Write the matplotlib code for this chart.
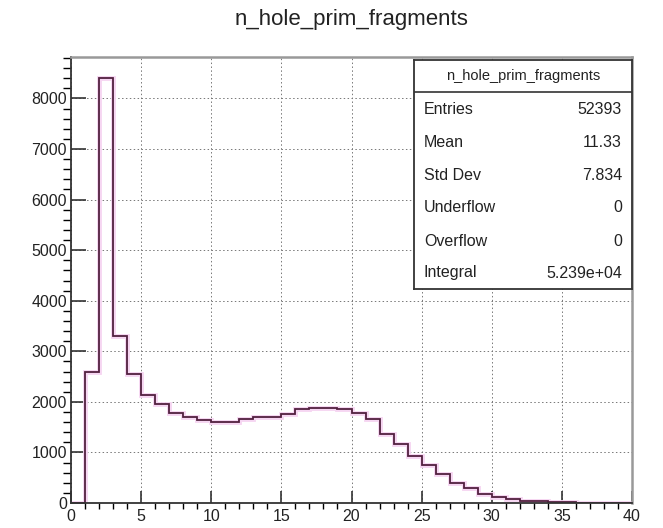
import numpy as np
import matplotlib.pyplot as plt
from matplotlib.ticker import MultipleLocator
from matplotlib.lines import Line2D

plt.rcParams['font.family'] = ['Liberation Sans', 'DejaVu Sans']

# histogram content (unit bins from 0 to 40)
bin_edges = list(range(0, 41))
counts = [0, 2600, 8400, 3300, 2550, 2140, 1950, 1780, 1710, 1650,
          1600, 1600, 1660, 1710, 1710, 1760, 1860, 1870, 1870, 1850,
          1780, 1660, 1370, 1160, 930, 750, 570, 390, 300, 170,
          120, 80, 45, 30, 20, 12, 8, 5, 3, 1]

title = "n_hole_prim_fragments"
stat_names = ["Entries", "Mean", "Std Dev", "Underflow", "Overflow", "Integral"]
stat_values = ["52393", "11.33", "7.834", "0", "0", "5.239e+04"]

W, H = 663, 528
fig = plt.figure(figsize=(W / 100, H / 100), dpi=100)

# main frame in pixel coordinates of the picture
left, right, top, bottom = 71, 632, 57, 503
ax = fig.add_axes([left / W, 1 - bottom / H, (right - left) / W, (bottom - top) / H])

ax.stairs(counts, bin_edges, color='#f6d6f2', linewidth=3.5)
ax.stairs(counts, bin_edges, color='#52203f', linewidth=1.3)

ax.set_xlim(0, 40)
ax.set_ylim(0, max(counts) * 1.05)

ax.xaxis.set_major_locator(MultipleLocator(5))
ax.xaxis.set_minor_locator(MultipleLocator(1))
ax.yaxis.set_major_locator(MultipleLocator(1000))
ax.yaxis.set_minor_locator(MultipleLocator(200))

ax.tick_params(axis='both', direction='in', labelsize=11.5, colors='#333333', labelcolor='#222222')
ax.tick_params(axis='x', which='major', length=9, width=1.2, pad=4)
ax.tick_params(axis='x', which='minor', length=4.5, width=1.0)
ax.tick_params(axis='y', which='major', length=11, width=1.2, pad=3)
ax.tick_params(axis='y', which='minor', length=6, width=1.0)
ax.tick_params(top=False, right=False, which='both')

ax.grid(True, which='major', color='#777777', linestyle=(0, (1.5, 2.5)), linewidth=0.7)
ax.set_axisbelow(True)

for s in ['left', 'bottom']:
    ax.spines[s].set_color('#333333')
    ax.spines[s].set_linewidth(1.3)
for s in ['top', 'right']:
    ax.spines[s].set_color('#999999')
    ax.spines[s].set_linewidth(1.8)

fig.text((left + right) / 2 / W, 1 - 20 / H, title, ha='center', va='center', fontsize=16, color='#222222')

# stats box
bx0, bx1, by0, by1 = 414, 632, 60, 289
box = fig.add_axes([bx0 / W, 1 - by1 / H, (bx1 - bx0) / W, (by1 - by0) / H])
box.set_xlim(bx0, bx1)
box.set_ylim(by1, by0)
box.set_xticks([])
box.set_yticks([])
for s in box.spines.values():
    s.set_color('#333333')
    s.set_linewidth(1.3)
box.add_line(Line2D([bx0, bx1], [91.7, 91.7], color='#333333', linewidth=1.2))
box.text((bx0 + bx1) / 2, 76, title, ha='center', va='center', fontsize=10.5, color='#222222')
row_y = [110, 142.7, 176, 208, 241, 273]
for name, val, y in zip(stat_names, stat_values, row_y):
    box.text(bx0 + 10, y, name, ha='left', va='center', fontsize=11.5, color='#222222')
    box.text(bx1 - 10, y, val, ha='right', va='center', fontsize=11.5, color='#222222')

fig.savefig('out.png', dpi=100)
